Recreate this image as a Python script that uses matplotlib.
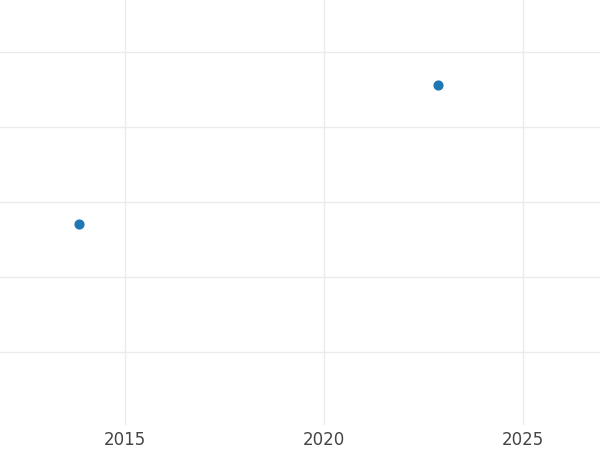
import matplotlib
matplotlib.use('Agg')
import matplotlib.pyplot as plt

# values
years = [2013.84, 2022.86]
values = [2.71, 4.56]
x_ticks = [2015, 2020, 2025]

fig = plt.figure(figsize=(6, 4.5), dpi=100)
ax = fig.add_axes([0, 1 - 425 / 450, 1, 425 / 450])

ax.scatter(years, values, s=40, color='#1f77b4', zorder=3)

ax.set_xlim(2011.86, 2026.93)
ax.set_ylim(0.03, 5.69)
ax.set_xticks(x_ticks)
ax.set_yticks([1, 2, 3, 4, 5])
ax.set_yticklabels([])
ax.grid(True, color='#ebebeb', linewidth=1)
ax.set_axisbelow(True)
ax.tick_params(length=0, labelsize=12, labelcolor='#444444', pad=4)
for s in ax.spines.values():
    s.set_visible(False)

fig.savefig('out.png', dpi=100)
